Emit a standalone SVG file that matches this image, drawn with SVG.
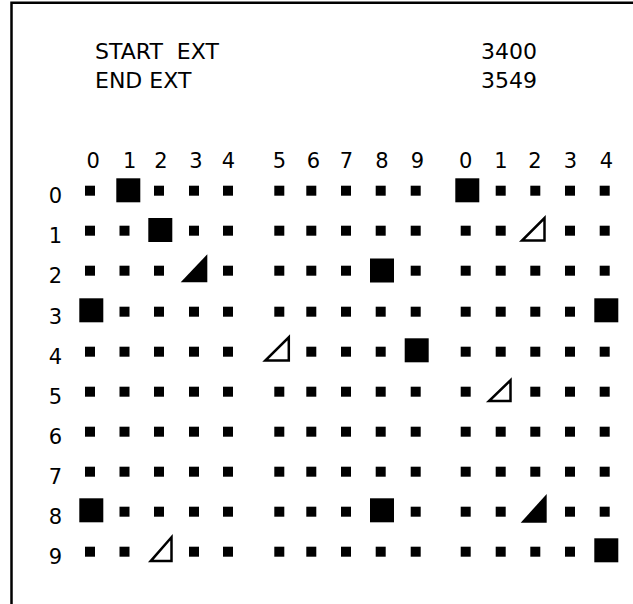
<svg xmlns="http://www.w3.org/2000/svg" xmlns:xlink="http://www.w3.org/1999/xlink" width="633" height="604" viewBox="0 0 633 604">
<style>
text{font-family:"DejaVu Sans","Liberation Sans",sans-serif;fill:#000}
.h{font-size:22px;white-space:pre}
.d{font-size:21px;text-anchor:middle}
.open{fill:#fff;stroke:#000;stroke-width:2.5}
.fill{fill:#000}
</style>
<defs>
<rect id="sq" x="-5" y="-5" width="10" height="10" fill="#000"/>
<rect id="big" x="-12" y="-12" width="24" height="24" fill="#000"/>
</defs>
<rect width="633" height="604" fill="#fff"/>
<path id="frame" d="M11.5,604 V2.7 H633" fill="none" stroke="#000" stroke-width="2.5"/>
<g id="header">
<text class="h" x="95" y="59">START  EXT</text>
<text class="h" x="95" y="88">END EXT</text>
<text class="h" x="481" y="59">3400</text>
<text class="h" x="481" y="88">3549</text>
</g>
<g id="col-labels">
<text class="d" x="93.3" y="168">0</text>
<text class="d" x="129.7" y="168">1</text>
<text class="d" x="161" y="168">2</text>
<text class="d" x="196" y="168">3</text>
<text class="d" x="228.5" y="168">4</text>
<text class="d" x="279.5" y="168">5</text>
<text class="d" x="313.5" y="168">6</text>
<text class="d" x="346.5" y="168">7</text>
<text class="d" x="382" y="168">8</text>
<text class="d" x="417.5" y="168">9</text>
<text class="d" x="465.7" y="168">0</text>
<text class="d" x="501" y="168">1</text>
<text class="d" x="535" y="168">2</text>
<text class="d" x="570.5" y="168">3</text>
<text class="d" x="606.5" y="168">4</text>
</g>
<g id="row-labels">
<text class="d" x="55.5" y="203.2">0</text>
<text class="d" x="55.5" y="243.2">1</text>
<text class="d" x="55.5" y="283.2">2</text>
<text class="d" x="55.5" y="324.2">3</text>
<text class="d" x="55.5" y="364.2">4</text>
<text class="d" x="55.5" y="404.2">5</text>
<text class="d" x="55.5" y="444.2">6</text>
<text class="d" x="55.5" y="484.2">7</text>
<text class="d" x="55.5" y="524.2">8</text>
<text class="d" x="55.5" y="564.2">9</text>
</g>
<g id="row0">
<use href="#sq" x="90" y="190.7"/><use href="#big" x="128.3" y="190.3"/><use href="#sq" x="159" y="190.7"/><use href="#sq" x="194" y="190.7"/><use href="#sq" x="228" y="190.7"/>
<use href="#sq" x="279.3" y="190.7"/><use href="#sq" x="311.3" y="190.7"/><use href="#sq" x="346" y="190.7"/><use href="#sq" x="380.7" y="190.7"/><use href="#sq" x="415.7" y="190.7"/>
<use href="#big" x="467.3" y="190.3"/><use href="#sq" x="500.7" y="190.7"/><use href="#sq" x="535.3" y="190.7"/><use href="#sq" x="570" y="190.7"/><use href="#sq" x="604.7" y="190.7"/>
</g>
<g id="row1">
<use href="#sq" x="90" y="230.7"/><use href="#sq" x="124.5" y="230.7"/><use href="#big" x="160.3" y="230"/><use href="#sq" x="194" y="230.7"/><use href="#sq" x="228" y="230.7"/>
<use href="#sq" x="279.3" y="230.7"/><use href="#sq" x="311.3" y="230.7"/><use href="#sq" x="346" y="230.7"/><use href="#sq" x="380.7" y="230.7"/><use href="#sq" x="415.7" y="230.7"/>
<use href="#sq" x="465.7" y="230.7"/><use href="#sq" x="500.7" y="230.7"/><path class="open" d="M522,240.5 H544.5 V218 Z"/><use href="#sq" x="570" y="230.7"/><use href="#sq" x="604.7" y="230.7"/>
</g>
<g id="row2">
<use href="#sq" x="90" y="270.7"/><use href="#sq" x="124.5" y="270.7"/><use href="#sq" x="159" y="270.7"/><path class="fill" d="M180.7,282.3 H207.3 V254.3 Z"/><use href="#sq" x="228" y="270.7"/>
<use href="#sq" x="279.3" y="270.7"/><use href="#sq" x="311.3" y="270.7"/><use href="#sq" x="346" y="270.7"/><use href="#big" x="382" y="270.5"/><use href="#sq" x="415.7" y="270.7"/>
<use href="#sq" x="465.7" y="270.7"/><use href="#sq" x="500.7" y="270.7"/><use href="#sq" x="535.3" y="270.7"/><use href="#sq" x="570" y="270.7"/><use href="#sq" x="604.7" y="270.7"/>
</g>
<g id="row3">
<use href="#big" x="91.3" y="310.3"/><use href="#sq" x="124.5" y="311.7"/><use href="#sq" x="159" y="311.7"/><use href="#sq" x="194" y="311.7"/><use href="#sq" x="228" y="311.7"/>
<use href="#sq" x="279.3" y="311.7"/><use href="#sq" x="311.3" y="311.7"/><use href="#sq" x="346" y="311.7"/><use href="#sq" x="380.7" y="311.7"/><use href="#sq" x="415.7" y="311.7"/>
<use href="#sq" x="465.7" y="311.7"/><use href="#sq" x="500.7" y="311.7"/><use href="#sq" x="535.3" y="311.7"/><use href="#sq" x="570" y="311.7"/><use href="#big" x="606.3" y="310.3"/>
</g>
<g id="row4">
<use href="#sq" x="90" y="351.7"/><use href="#sq" x="124.5" y="351.7"/><use href="#sq" x="159" y="351.7"/><use href="#sq" x="194" y="351.7"/><use href="#sq" x="228" y="351.7"/>
<path class="open" d="M265.3,360.5 H288.8 V337.3 Z"/><use href="#sq" x="311.3" y="351.7"/><use href="#sq" x="346" y="351.7"/><use href="#sq" x="380.7" y="351.7"/><use href="#big" x="416.7" y="350.3"/>
<use href="#sq" x="465.7" y="351.7"/><use href="#sq" x="500.7" y="351.7"/><use href="#sq" x="535.3" y="351.7"/><use href="#sq" x="570" y="351.7"/><use href="#sq" x="604.7" y="351.7"/>
</g>
<g id="row5">
<use href="#sq" x="90" y="391.7"/><use href="#sq" x="124.5" y="391.7"/><use href="#sq" x="159" y="391.7"/><use href="#sq" x="194" y="391.7"/><use href="#sq" x="228" y="391.7"/>
<use href="#sq" x="279.3" y="391.7"/><use href="#sq" x="311.3" y="391.7"/><use href="#sq" x="346" y="391.7"/><use href="#sq" x="380.7" y="391.7"/><use href="#sq" x="415.7" y="391.7"/>
<use href="#sq" x="465.7" y="391.7"/><path class="open" d="M489,401.1 H510.5 V380.3 Z"/><use href="#sq" x="535.3" y="391.7"/><use href="#sq" x="570" y="391.7"/><use href="#sq" x="604.7" y="391.7"/>
</g>
<g id="row6">
<use href="#sq" x="90" y="431.7"/><use href="#sq" x="124.5" y="431.7"/><use href="#sq" x="159" y="431.7"/><use href="#sq" x="194" y="431.7"/><use href="#sq" x="228" y="431.7"/>
<use href="#sq" x="279.3" y="431.7"/><use href="#sq" x="311.3" y="431.7"/><use href="#sq" x="346" y="431.7"/><use href="#sq" x="380.7" y="431.7"/><use href="#sq" x="415.7" y="431.7"/>
<use href="#sq" x="465.7" y="431.7"/><use href="#sq" x="500.7" y="431.7"/><use href="#sq" x="535.3" y="431.7"/><use href="#sq" x="570" y="431.7"/><use href="#sq" x="604.7" y="431.7"/>
</g>
<g id="row7">
<use href="#sq" x="90" y="471.7"/><use href="#sq" x="124.5" y="471.7"/><use href="#sq" x="159" y="471.7"/><use href="#sq" x="194" y="471.7"/><use href="#sq" x="228" y="471.7"/>
<use href="#sq" x="279.3" y="471.7"/><use href="#sq" x="311.3" y="471.7"/><use href="#sq" x="346" y="471.7"/><use href="#sq" x="380.7" y="471.7"/><use href="#sq" x="415.7" y="471.7"/>
<use href="#sq" x="465.7" y="471.7"/><use href="#sq" x="500.7" y="471.7"/><use href="#sq" x="535.3" y="471.7"/><use href="#sq" x="570" y="471.7"/><use href="#sq" x="604.7" y="471.7"/>
</g>
<g id="row8">
<use href="#big" x="91.3" y="510.3"/><use href="#sq" x="124.5" y="511.7"/><use href="#sq" x="159" y="511.7"/><use href="#sq" x="194" y="511.7"/><use href="#sq" x="228" y="511.7"/>
<use href="#sq" x="279.3" y="511.7"/><use href="#sq" x="311.3" y="511.7"/><use href="#sq" x="346" y="511.7"/><use href="#big" x="382" y="510.3"/><use href="#sq" x="415.7" y="511.7"/>
<use href="#sq" x="465.7" y="511.7"/><use href="#sq" x="500.7" y="511.7"/><path class="fill" d="M520.7,522.7 H546.7 V494 Z"/><use href="#sq" x="570" y="511.7"/><use href="#sq" x="604.7" y="511.7"/>
</g>
<g id="row9">
<use href="#sq" x="90" y="551.7"/><use href="#sq" x="124.5" y="551.7"/><path class="open" d="M150.7,561.1 H171.5 V537.3 Z"/><use href="#sq" x="194" y="551.7"/><use href="#sq" x="228" y="551.7"/>
<use href="#sq" x="279.3" y="551.7"/><use href="#sq" x="311.3" y="551.7"/><use href="#sq" x="346" y="551.7"/><use href="#sq" x="380.7" y="551.7"/><use href="#sq" x="415.7" y="551.7"/>
<use href="#sq" x="465.7" y="551.7"/><use href="#sq" x="500.7" y="551.7"/><use href="#sq" x="535.3" y="551.7"/><use href="#sq" x="570" y="551.7"/><use href="#big" x="606.3" y="550.3"/>
</g>
</svg>
